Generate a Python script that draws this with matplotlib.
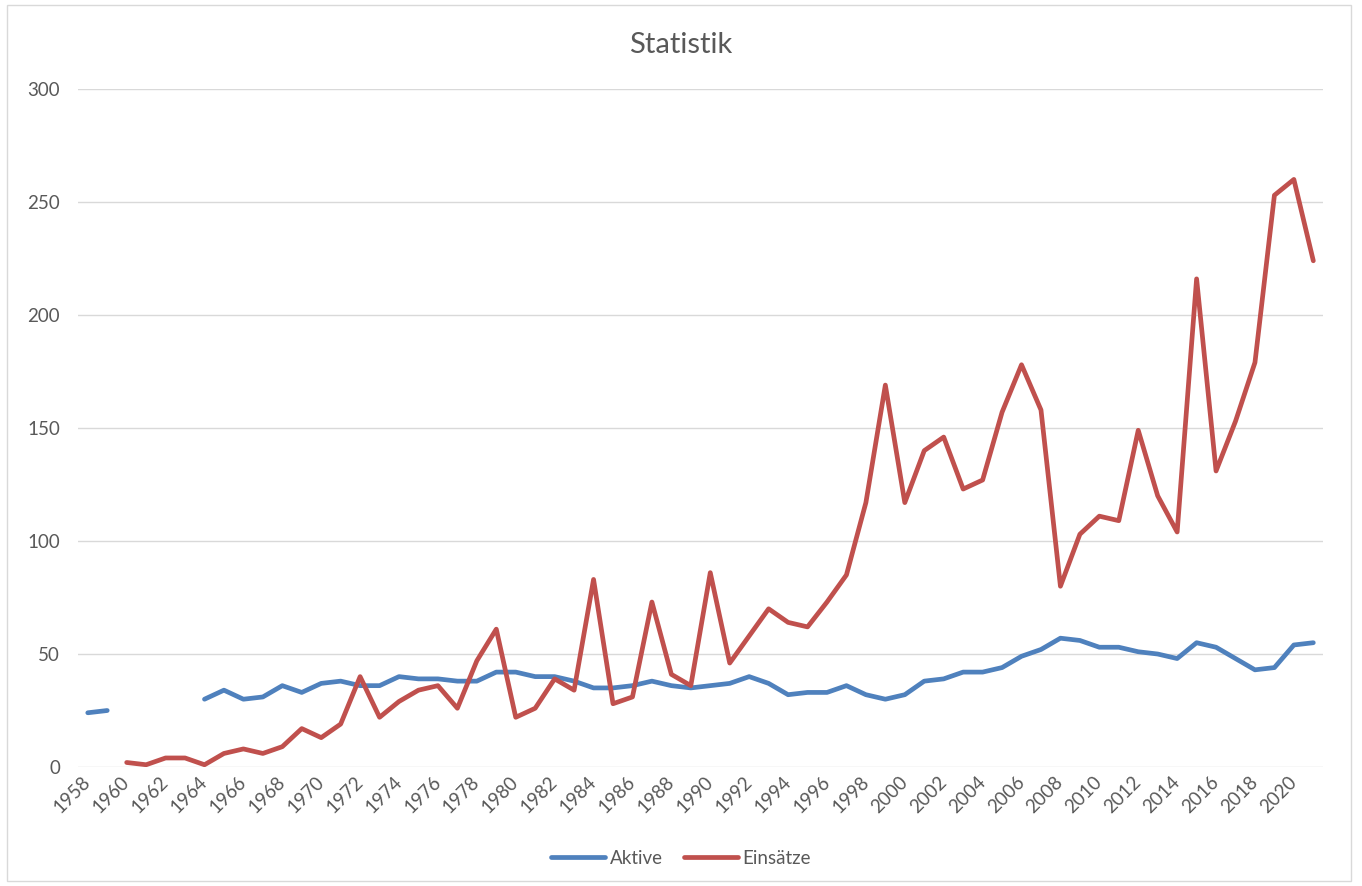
import numpy as np
import matplotlib.pyplot as plt
from matplotlib.patches import Rectangle
import matplotlib.transforms as mtransforms

plt.rcParams['font.family'] = ['Lato', 'DejaVu Sans']

years = list(range(1958, 2022))

# Aktive (no data 1960-1963)
aktive = [24, 25, np.nan, np.nan, np.nan, np.nan, 30, 34, 30, 31,
          36, 33, 37, 38, 36, 36, 40, 39, 39, 38,
          38, 42, 42, 40, 40, 38, 35, 35, 36, 38,
          36, 35, 36, 37, 40, 37, 32, 33, 33, 36,
          32, 30, 32, 38, 39, 42, 42, 44, 49, 52,
          57, 56, 53, 53, 51, 50, 48, 55, 53, 48,
          43, 44, 54, 55]

# Einsätze (starting 1960)
einsaetze = [np.nan, np.nan, 2, 1, 4, 4, 1, 6, 8, 6,
             9, 17, 13, 19, 40, 22, 29, 34, 36, 26,
             47, 61, 22, 26, 39, 34, 83, 28, 31, 73,
             41, 36, 86, 46, 58, 70, 64, 62, 73, 85,
             117, 169, 117, 140, 146, 123, 127, 157, 178, 158,
             80, 103, 111, 109, 149, 120, 104, 216, 131, 153,
             179, 253, 260, 224]

tick_years = list(range(1958, 2021, 2))

fig = plt.figure(figsize=(13.62, 8.86), dpi=100)
ax = fig.add_axes([0.0573, 0.1343, 0.9141, 0.7652])

ax.plot(years, aktive, color='#4F81BD', lw=3.4, solid_capstyle='round',
        solid_joinstyle='round', label='Aktive')
ax.plot(years, einsaetze, color='#C0504D', lw=3.4, solid_capstyle='round',
        solid_joinstyle='round', label='Einsätze')

ax.set_xlim(1957.5, 2021.5)
ax.set_ylim(0, 300)
ax.set_yticks(range(0, 301, 50))
ax.set_xticks(tick_years)
ax.set_xticklabels([str(y) for y in tick_years], rotation=45, ha='right',
                   va='center', rotation_mode='anchor')
# nudge the rotated labels a bit to the right, like the original
offset = mtransforms.ScaledTranslation(7 / 72, 0, fig.dpi_scale_trans)
for lbl in ax.get_xticklabels():
    lbl.set_transform(lbl.get_transform() + offset)
ax.grid(axis='y', color='#D9D9D9', lw=1)
ax.set_axisbelow(True)
for s in ax.spines.values():
    s.set_visible(False)
ax.tick_params(length=0, labelsize=13.5, colors='#595959')
ax.tick_params(axis='y', pad=13)
ax.tick_params(axis='x', pad=9)

fig.text(0.5, 0.949, 'Statistik', ha='center', va='center', fontsize=21,
         color='#595959')

fig.legend(loc='center', bbox_to_anchor=(0.5, 0.031), ncol=2, frameon=False,
           fontsize=13.5, handlelength=2.9, handletextpad=0.25,
           columnspacing=1.1, labelcolor='#595959')

fig.patches.append(Rectangle((0.005, 0.006), 0.987, 0.988, transform=fig.transFigure,
                             fill=False, edgecolor='#D9D9D9', lw=1))

fig.savefig('out.png', dpi=100)
